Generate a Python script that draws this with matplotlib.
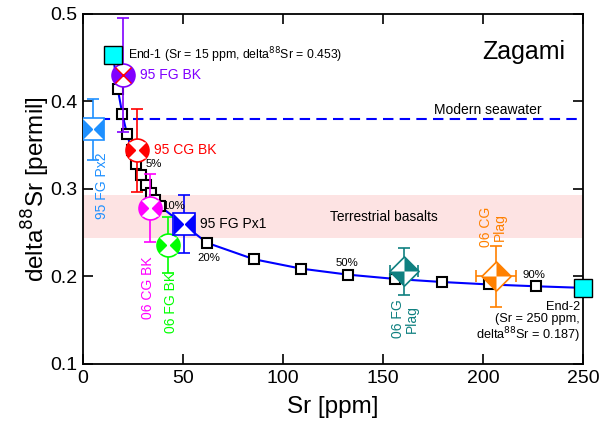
import matplotlib
matplotlib.use("Agg")
import matplotlib.pyplot as plt
from matplotlib.path import Path
import numpy as np

plt.rcParams['font.family'] = ['Liberation Sans', 'DejaVu Sans']

# ---- data ----
end_sr = [15, 250]
end_d = [0.453, 0.187]

mix_labels = ['1%', '2%', '3%', '4%', '5%', '6%', '7%', '8%', '9%', '10%',
              '20%', '30%', '40%', '50%', '60%', '70%', '80%', '90%']
mix_sr = [17.35, 19.7, 22.05, 24.4, 26.75, 29.1, 31.45, 33.8, 36.15, 38.5,
          62.0, 85.5, 109.0, 132.5, 156.0, 179.5, 203.0, 226.5]
mix_d = [0.4147, 0.3855, 0.3625, 0.3440, 0.3287, 0.3159, 0.3050, 0.2956, 0.2874, 0.2803,
         0.2385, 0.2197, 0.2090, 0.2021, 0.1972, 0.1937, 0.1909, 0.1888]

seawater = 0.380
basalt_band = [0.244, 0.293]

bk_names = ['95 FG BK', '95 CG BK', '06 CG BK', '06 FG BK']
bk_sr = [20.0, 27.0, 33.5, 42.5]
bk_d = [0.430, 0.344, 0.278, 0.236]
bk_err = [0.065, 0.047, 0.039, 0.032]
bk_colors = ['#8000ff', '#ff0000', '#ff00ff', '#00ff00']
bk_xcolors = ['#ff0000', 'white', 'white', 'white']

px_names = ['95 FG Px2', '95 FG Px1']
px_sr = [5.0, 50.5]
px_d = [0.368, 0.260]
px_err = [0.035, 0.033]
px_colors = ['#1e90ff', '#0000ff']

pl_names = ['06 FG\nPlag', '06 CG\nPlag']
pl_sr = [160.5, 206.5]
pl_d = [0.206, 0.200]
pl_yerr = [0.027, 0.035]
pl_xerr = [7.0, 10.0]
pl_colors = ['#0f8080', '#ff8000']

# ---- custom markers ----
lr_wedges = Path.make_compound_path(Path.wedge(135, 225), Path.wedge(-45, 45))
lr_tris = Path([(-1, -1), (0, 0), (-1, 1), (-1, -1), (1, -1), (0, 0), (1, 1), (1, -1)],
               [Path.MOVETO, Path.LINETO, Path.LINETO, Path.CLOSEPOLY,
                Path.MOVETO, Path.LINETO, Path.LINETO, Path.CLOSEPOLY])
diamond = Path([(0, 1), (1, 0), (0, -1), (-1, 0), (0, 1)],
               [Path.MOVETO, Path.LINETO, Path.LINETO, Path.LINETO, Path.CLOSEPOLY])
diag_tris = Path([(0, 0), (0, 1), (1, 0), (0, 0), (0, 0), (0, -1), (-1, 0), (0, 0)],
                 [Path.MOVETO, Path.LINETO, Path.LINETO, Path.CLOSEPOLY,
                  Path.MOVETO, Path.LINETO, Path.LINETO, Path.CLOSEPOLY])

fig = plt.figure(figsize=(6.03, 4.23), dpi=100)
ax = fig.add_axes([0.1376, 0.1395, 0.8292, 0.8275])

ax.set_xlim(0, 250)
ax.set_ylim(0.1, 0.5)

ax.axhspan(basalt_band[0], basalt_band[1], color='#fde3e3', lw=0, zorder=0)
ax.axhline(seawater, color='#0000ff', ls=(0, (5, 3)), lw=1.5, zorder=1)

# mixing curve
ax.plot([end_sr[0]] + mix_sr + [end_sr[1]], [end_d[0]] + mix_d + [end_d[1]],
        color='#0000ff', lw=1.5, zorder=2)
ax.plot(mix_sr, mix_d, ls='none', marker='s', ms=7, mfc='white', mec='black', mew=1.5, zorder=3)
ax.plot(end_sr, end_d, ls='none', marker='s', ms=13, mfc='#00ffff', mec='black', mew=1.0,
        zorder=6, clip_on=False)

# bulk samples
for s, d, e, c, xc in zip(bk_sr, bk_d, bk_err, bk_colors, bk_xcolors):
    ax.errorbar(s, d, yerr=e, fmt='none', ecolor=c, elinewidth=1.2, capsize=4.5, capthick=1.2, zorder=4)
    ax.plot(s, d, marker='o', ms=16.5, mfc='white', mec=c, mew=1.2, zorder=5)
    ax.plot(s, d, marker=lr_wedges, ms=16.5, mfc=c, mec='none', zorder=5)
    ax.plot(s, d, marker='x', ms=11.5, mec=xc, mew=1.0, zorder=5)

# pyroxene
for s, d, e, c in zip(px_sr, px_d, px_err, px_colors):
    ax.errorbar(s, d, yerr=e, fmt='none', ecolor=c, elinewidth=1.2, capsize=4.5, capthick=1.2, zorder=4)
    ax.plot(s, d, marker='s', ms=15.5, mfc='white', mec=c, mew=1.2, zorder=5)
    ax.plot(s, d, marker=lr_tris, ms=15.5, mfc=c, mec='none', zorder=5)

# plagioclase
for s, d, ye, xe, c in zip(pl_sr, pl_d, pl_yerr, pl_xerr, pl_colors):
    ax.errorbar(s, d, yerr=ye, xerr=xe, fmt='none', ecolor=c, elinewidth=1.2, capsize=4.5,
                capthick=1.2, zorder=4)
    ax.plot(s, d, marker=diamond, ms=21, mfc='white', mec=c, mew=1.2, zorder=5)
    ax.plot(s, d, marker=diag_tris, ms=21, mfc=c, mec='none', zorder=5)

# ---- text ----
ax.text(22.5, 0.453, 'End-1 (Sr = 15 ppm, delta$^{88}$Sr = 0.453)', fontsize=8.8,
        va='center', ha='left')
ax.text(248.5, 0.1725, 'End-2\n(Sr = 250 ppm,\ndelta$^{88}$Sr = 0.187)', fontsize=9.2,
        va='top', ha='right', multialignment='right', linespacing=1.05)
ax.text(241, 0.4566, 'Zagami', fontsize=18, ha='right', va='center')
ax.text(229.5, 0.3903, 'Modern seawater', fontsize=10, ha='right', va='center')
ax.text(123.5, 0.268, 'Terrestrial basalts', fontsize=9.9, ha='left', va='center')

ax.text(bk_sr[0] + 8.5, bk_d[0], bk_names[0], color=bk_colors[0], fontsize=10, va='center')
ax.text(bk_sr[1] + 8.5, bk_d[1], bk_names[1], color=bk_colors[1], fontsize=10, va='center')
ax.text(32.5, 0.223, bk_names[2], color=bk_colors[2], fontsize=10, rotation=90, ha='center', va='top')
ax.text(44.0, 0.205, bk_names[3], color=bk_colors[3], fontsize=10, rotation=90, ha='center', va='top')
ax.text(px_sr[1] + 8, px_d[1], px_names[1], color='black', fontsize=10, va='center')
ax.text(9.3, 0.342, px_names[0], color=px_colors[0], fontsize=10, rotation=90, ha='center', va='top')
ax.text(161, 0.174, pl_names[0], color=pl_colors[0], fontsize=10, rotation=90, ha='center',
        va='top', multialignment='center', linespacing=1.0)
ax.text(205, 0.2335, pl_names[1], color=pl_colors[1], fontsize=10, rotation=90, ha='center',
        va='bottom', multialignment='center', linespacing=1.0)

pct_pos = {'5%': (35.5, 0.328), '10%': (45.5, 0.281), '20%': (63.0, 0.221),
           '50%': (132, 0.215), '90%': (225.5, 0.2015)}
for lab, (x, y) in pct_pos.items():
    ax.text(x, y, lab, fontsize=8.2, ha='center', va='center', zorder=7)

ax.set_xlabel('Sr [ppm]', fontsize=17.5, labelpad=7)
ax.set_ylabel('delta$^{88}$Sr [permil]', fontsize=17.5, labelpad=-1)
ax.set_xticks([0, 50, 100, 150, 200, 250])
ax.set_yticks([0.1, 0.2, 0.3, 0.4, 0.5])
ax.set_yticklabels(['0.1', '0.2', '0.3', '0.4', '0.5'])
ax.tick_params(direction='in', length=7, width=1.2, top=True, right=True, labelsize=14, pad=4)
for sp in ax.spines.values():
    sp.set_linewidth(1.3)

fig.savefig('out.png', dpi=100)
